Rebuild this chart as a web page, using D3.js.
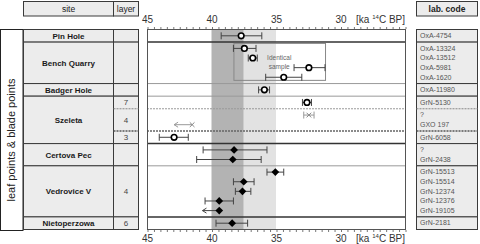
<!DOCTYPE html>
<html>
<head>
<meta charset="utf-8">
<script src="https://cdn.jsdelivr.net/npm/d3@7"></script>
<style>
  body { margin: 0; background: #fff; }
  svg { display: block; font-family: "Liberation Sans", Arial, sans-serif; }
</style>
</head>
<body>
<svg width="480" height="244"></svg>
<script>
(function (d3) {
    'use strict';

    // rows of the table (one per site / layer)
    const rowSites  = ["Pin Hole", "Bench Quarry", "Badger Hole", "Szeleta", "Szeleta", "Szeleta", "Certova Pec", "Vedrovice V", "Nietoperzowa"];
    const rowLayers = ["", "", "", "7", "4", "3", "", "4", "6"];
    const rowCounts = [1, 4, 1, 1, 2, 1, 2, 5, 1];

    // one entry per date, in table order
    const labCodes = ["OxA-4754", "OxA-13324", "OxA-13512", "OxA-5981", "OxA-1620", "OxA-11980",
                      "GrN-5130", "?", "GXO 197", "GrN-6058", "?", "GrN-2438",
                      "GrN-15513", "GrN-15514", "GrN-12374", "GrN-12376", "GrN-19105", "GrN-2181"];
    const ages     = [37.7, 37.45, 36.8, 32.45, 34.4, 35.9, 32.6, 32.45, 41.5, 42.9, 38.25, 38.35, 35.05, 37.5, 37.6, 39.4, 39.4, 38.4];
    const ageOld   = [39.25, 38.3, 37.15, 33.6, 35.8, 36.35, 32.95, 32.85, 42.9, 44.05, 40.65, 41.15, 35.7, 38.3, 38.15, 40.5, 40.7, 39.65];
    const ageYoung = [36.1, 36.55, 36.45, 31.2, 33.0, 35.5, 32.25, 32.05, 41.5, 41.8, 35.7, 36.15, 34.4, 36.7, 36.95, 38.3, 39.4, 37.2];
    const markers  = ["o", "o", "o", "o", "o", "o", "o", "x", "x", "o", "d", "d", "d", "d", "d", "d", "d", "d"];
    const isLimit  = [false, false, false, false, false, false, false, false, true, false, false, false, false, false, false, false, true, false];

    const axisTicks = [45, 40, 35, 30];
    const bands = [{from: 40, to: 37.5}, {from: 37.5, to: 35}];

    const svg = d3.select('svg');
    const left = 147, right = 405, top = 29, bottom = 229;

    const x = d3.scaleLinear().domain([45, 25]).range([left, right]);

    // vertical layout: every date gets one line, every row a little padding
    const pad = 0.31;
    const rows = [];
    let u = 0, di = 0;
    rowSites.forEach((s, i) => {
        const r = {site: s, layer: rowLayers[i], u0: u, dates: []};
        u += pad / 2;
        for (let k = 0; k < rowCounts[i]; k++) {
            r.dates.push({i: di, u: u + 0.5});
            di++; u += 1;
        }
        u += pad / 2;
        r.u1 = u;
        rows.push(r);
    });
    const y = d3.scaleLinear().domain([0, u]).range([top, bottom]);

    // group rows by site
    const siteSpans = [];
    rows.forEach((r, i) => {
        const last = siteSpans[siteSpans.length - 1];
        if (last && last.site === r.site) { last.u1 = r.u1; last.rows.push(i); }
        else siteSpans.push({site: r.site, u0: r.u0, u1: r.u1, rows: [i]});
    });

    const cellFill = '#ececec', edge = '#3a3a3a';

    // ---- header boxes
    const hdr = [{x0: 23, x1: 113, t: 'site', w: 'normal'}, {x0: 113, x1: 138, t: 'layer', w: 'normal'}, {x0: 416, x1: 477, t: 'lab. code', w: 'bold'}];
    hdr.forEach(h => {
        svg.append('rect').attr('x', h.x0 + 0.5).attr('y', 1.5).attr('width', h.x1 - h.x0).attr('height', 14.5)
            .attr('fill', cellFill).attr('stroke', edge).attr('stroke-width', 1);
        svg.append('text').attr('x', (h.x0 + h.x1) / 2 + 0.5).attr('y', 12).attr('text-anchor', 'middle')
            .attr('font-size', 8.5).attr('font-weight', h.w).attr('fill', '#222').text(h.t);
    });

    // ---- outer group label
    svg.append('rect').attr('x', 0.5).attr('y', top + 0.5).attr('width', 22.5).attr('height', bottom - top + 1)
        .attr('fill', '#fff').attr('stroke', '#222');
    svg.append('text').attr('transform', `translate(15,140) rotate(-90)`)
        .attr('text-anchor', 'middle').attr('font-size', 11).attr('fill', '#222').text('leaf points & blade points');

    // ---- site + layer + lab code cells
    siteSpans.forEach(s => {
        const y0 = y(s.u0) + 0.5, y1 = y(s.u1) + 0.5;
        [[23, 113], [113, 138], [416, 477]].forEach(c => {
            svg.append('rect').attr('x', c[0] + 0.5).attr('y', y0).attr('width', c[1] - c[0]).attr('height', y1 - y0)
                .attr('fill', cellFill).attr('stroke', edge);
        });
        svg.append('text').attr('x', 68.5).attr('y', (y0 + y1) / 2 + 3).attr('text-anchor', 'middle')
            .attr('font-size', 8).attr('font-weight', 'bold').attr('fill', '#1a1a1a').text(s.site);
        s.rows.forEach((ri, k) => {
            const r = rows[ri];
            if (r.layer) {
                svg.append('text').attr('x', 126).attr('y', (y(r.u0) + y(r.u1)) / 2 + 3.5).attr('text-anchor', 'middle')
                    .attr('font-size', 8).attr('fill', '#444').text(r.layer);
            }
            if (k > 0) {
                const yy = y(r.u0) + 0.5;
                const dark = k === s.rows.length - 1;
                [[113, 138], [416, 477]].forEach(c => {
                    svg.append('line').attr('x1', c[0] + 0.5).attr('x2', c[1] + 0.5).attr('y1', yy).attr('y2', yy)
                        .attr('stroke', dark ? '#555' : '#888').attr('stroke-width', dark ? 1.5 : 1).attr('stroke-dasharray', '2,1');
                });
            }
        });
    });

    // lab codes
    rows.forEach(r => r.dates.forEach(d => {
        svg.append('text').attr('x', 420).attr('y', y(d.u) + 2.8).attr('font-size', 7).attr('fill', '#555')
            .text(labCodes[d.i]);
    }));

    // ---- plot area
    const plot = svg.append('g');
    plot.append('rect').attr('x', left).attr('y', top).attr('width', right - left).attr('height', bottom - top).attr('fill', '#fff');
    const bandFill = ['#b3b3b3', '#e2e2e2'];
    plot.selectAll('rect.band').data(bands).enter().append('rect').attr('class', 'band')
        .attr('x', d => x(d.from)).attr('width', d => x(d.to) - x(d.from))
        .attr('y', top).attr('height', bottom - top).attr('fill', (d, i) => bandFill[i]);

    // row separators in plot
    const sepStyle = [
        {c: '#333', w: 1.5}, {c: '#999', w: 1}, {c: '#999', w: 1}, {c: '#999', w: 1, dash: '2,1'},
        {c: '#666', w: 1.5, dash: '2,1'}, {c: '#333', w: 1.5}, {c: '#999', w: 1}, {c: '#333', w: 1.5}
    ];
    rows.slice(0, -1).forEach((r, i) => {
        const st = sepStyle[i];
        plot.append('line').attr('x1', left).attr('x2', right).attr('y1', y(r.u1) + 0.5).attr('y2', y(r.u1) + 0.5)
            .attr('stroke', st.c).attr('stroke-width', st.w).attr('stroke-dasharray', st.dash || null);
    });
    plot.append('rect').attr('x', left + 0.5).attr('y', top + 0.5).attr('width', right - left).attr('height', bottom - top)
        .attr('fill', 'none').attr('stroke', '#555');

    // identical sample box around Bench Quarry
    const bq = rows[1];
    const bqOld = d3.max(bq.dates, d => ageOld[d.i]), bqYoung = d3.min(bq.dates, d => ageYoung[d.i]);
    plot.append('rect').attr('x', x(bqOld) + 0.5).attr('y', y(bq.u0) + 1.8).attr('width', x(bqYoung) - x(bqOld))
        .attr('height', y(bq.u1) - y(bq.u0) - 4.5).attr('fill', 'none').attr('stroke', '#888');
    const idx = x(34.75);
    plot.append('text').attr('x', idx).attr('y', y(bq.dates[1].u) + 2.3).attr('text-anchor', 'middle')
        .attr('font-size', 6.5).attr('fill', '#666').text('Identical');
    plot.append('text').attr('x', idx).attr('y', y(bq.dates[2].u) + 1.5).attr('text-anchor', 'middle')
        .attr('font-size', 6.5).attr('fill', '#666').text('sample');

    // ---- dates
    const dates = [];
    rows.forEach(r => r.dates.forEach(d => dates.push({i: d.i, yy: y(d.u) + 0.5})));

    dates.forEach(d => {
        const i = d.i, yy = d.yy;
        const col = markers[i] === 'x' ? '#999' : '#444';
        const x0 = x(ageOld[i]), x1 = x(ageYoung[i]);
        if (isLimit[i]) {
            plot.append('line').attr('x1', x0).attr('x2', x(ages[i])).attr('y1', yy).attr('y2', yy).attr('stroke', col).attr('stroke-width', 1);
            plot.append('path').attr('d', `M${x0 + 4},${yy - 2.5}L${x0},${yy}L${x0 + 4},${yy + 2.5}`)
                .attr('fill', 'none').attr('stroke', col).attr('stroke-width', 1);
        } else {
            plot.append('line').attr('x1', x0).attr('x2', x1).attr('y1', yy).attr('y2', yy).attr('stroke', col).attr('stroke-width', 1);
            [x0, x1].forEach(xx => plot.append('line').attr('x1', xx).attr('x2', xx)
                .attr('y1', yy - 3.5).attr('y2', yy + 3.5).attr('stroke', col).attr('stroke-width', 1));
        }
        const cx = x(ages[i]);
        if (markers[i] === 'o') {
            plot.append('circle').attr('cx', cx).attr('cy', yy).attr('r', 2.8)
                .attr('fill', '#fff').attr('stroke', '#000').attr('stroke-width', 1.6);
        } else if (markers[i] === 'd') {
            plot.append('path').attr('d', d3.symbol(d3.symbolDiamond2, 38)())
                .attr('transform', `translate(${cx},${yy})`).attr('fill', '#000');
        } else {
            plot.append('path').attr('d', d3.symbol(d3.symbolX, 16)())
                .attr('transform', `translate(${cx},${yy})`).attr('fill', 'none').attr('stroke', '#888').attr('stroke-width', 1);
        }
    });

    // ---- axes, top and bottom
    const minor = d3.range(25, 45.001, 0.5);
    [{ax: d3.axisTop, yy: top}, {ax: d3.axisBottom, yy: bottom + 1}].forEach(a => {
        const g = svg.append('g').attr('transform', `translate(0.5,${a.yy})`)
            .call(a.ax(x).tickValues(minor).tickSize(2).tickFormat(''));
        g.select('.domain').remove();
        g.selectAll('.tick line').attr('stroke', '#777');
        const lab = svg.append('g').attr('transform', `translate(0,${a.yy})`)
            .call(a.ax(x).tickValues(axisTicks).tickSize(0).tickPadding(a.yy === top ? 6 : 5).tickFormat(d3.format('d')));
        lab.select('.domain').remove();
        lab.selectAll('text').attr('font-size', 10).attr('font-family', '"Liberation Sans", Arial, sans-serif').attr('fill', '#333');
        const unit = svg.append('text').attr('x', right).attr('y', a.yy === top ? 23 : bottom + 13)
            .attr('text-anchor', 'end').attr('font-size', 10).attr('fill', '#333');
        unit.append('tspan').text('[ka ');
        unit.append('tspan').attr('font-size', 6).attr('dy', -4).text('14');
        unit.append('tspan').attr('dy', 4).text('C BP]');
    });

}(d3));
</script>
</body>
</html>
